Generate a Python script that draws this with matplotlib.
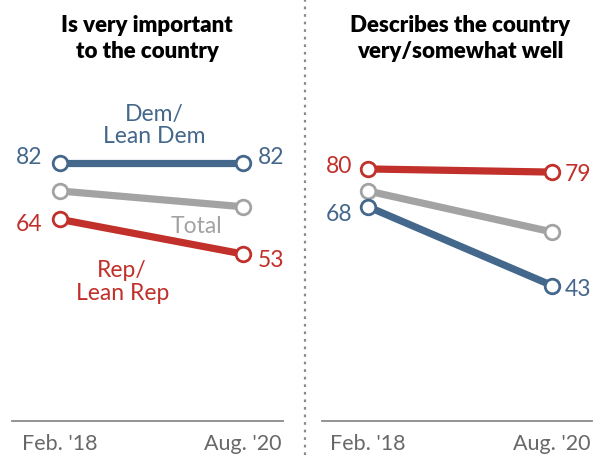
import matplotlib
matplotlib.use("Agg")
import matplotlib.pyplot as plt
from matplotlib.lines import Line2D

# Survey waves
waves = ["Feb. '18", "Aug. '20"]

# "Is very important to the country"
important_dem = [82, 82]
important_total = [73, 68]
important_rep = [64, 53]

# "Describes the country very/somewhat well"
describes_dem = [68, 43]
describes_total = [73, 60]
describes_rep = [80, 79]

DEM = "#44678c"
REP = "#c1302a"
TOTAL = "#a3a3a3"
AXIS = "#8a8a8a"
TICK = "#686868"

FONT = "Lato"

W, H = 600, 456
fig = plt.figure(figsize=(W / 100, H / 100), dpi=100)


def px_axes(left, right, bottom, top):
    return fig.add_axes([left / W, 1 - bottom / H, (right - left) / W, (bottom - top) / H])


def draw_series(ax, values, color, z):
    ax.plot([0, 1], values, color=color, lw=5.2, solid_capstyle="butt", zorder=z)
    ax.plot([0, 1], values, ls="none", marker="o", ms=10.5, mfc="white",
            mec=color, mew=2.0, zorder=z + 0.5)


def value_label(ax, x, y, text, color, dx, dy=0):
    # dx / dy are pixel offsets from the point
    ax.annotate(text, (x, y), xytext=(dx * 0.72, dy * 0.72), textcoords="offset points",
                ha="right" if dx < 0 else "left", va="center",
                fontsize=16.5, color=color, family=FONT)


def setup(ax, xpad_left, xpad_right):
    ax.set_xlim(-xpad_left, 1 + xpad_right)
    ax.set_ylim(0, 102.2)
    for s in ["top", "right", "left"]:
        ax.spines[s].set_visible(False)
    ax.spines["bottom"].set_color(AXIS)
    ax.spines["bottom"].set_linewidth(1.3)
    ax.set_yticks([])
    ax.set_xticks([0, 1])
    ax.set_xticklabels(waves, fontsize=15.5, color=TICK, family=FONT)
    ax.tick_params(axis="x", length=0, pad=9)
    ax.patch.set_alpha(0)


# left panel
ax1 = px_axes(12, 283, 422, 100)
setup(ax1, 48 / 183, 40 / 183)
draw_series(ax1, important_total, TOTAL, 2)
draw_series(ax1, important_rep, REP, 3)
draw_series(ax1, important_dem, DEM, 4)
value_label(ax1, 0, important_dem[0], str(important_dem[0]), DEM, -18, 6)
value_label(ax1, 1, important_dem[1], str(important_dem[1]), DEM, 15, 6)
value_label(ax1, 0, important_rep[0], str(important_rep[0]), REP, -18, -4)
value_label(ax1, 1, important_rep[1], str(important_rep[1]), REP, 15, -5)
ax1.text(0.515, important_dem[0] + 5.2, "Dem/\nLean Dem", ha="center", va="bottom",
         fontsize=16.5, color=DEM, family=FONT, linespacing=1.1)
ax1.text(0.885, important_total[1] - 2.6, "Total", ha="right", va="top",
         fontsize=16.5, color=TOTAL, family=FONT)
ax1.text(0.34, important_rep[1] - 1.6, "Rep/\nLean Rep", ha="center", va="top",
         fontsize=16.5, color=REP, family=FONT, linespacing=1.1)

# right panel
ax2 = px_axes(322, 592, 422, 100)
setup(ax2, 46 / 184, 40 / 184)
draw_series(ax2, describes_total, TOTAL, 2)
draw_series(ax2, describes_dem, DEM, 3)
draw_series(ax2, describes_rep, REP, 4)
value_label(ax2, 0, describes_rep[0], str(describes_rep[0]), REP, -16, 3)
value_label(ax2, 1, describes_rep[1], str(describes_rep[1]), REP, 13, -1)
value_label(ax2, 0, describes_dem[0], str(describes_dem[0]), DEM, -16, -7)
value_label(ax2, 1, describes_dem[1], str(describes_dem[1]), DEM, 13, -3)

fig.text(147 / W, 1 - 15 / H, "Is very important\nto the country", ha="center", va="top",
         fontsize=16, fontweight="heavy", family=FONT, linespacing=1.28)
fig.text(460 / W, 1 - 15 / H, "Describes the country\nvery/somewhat well", ha="center",
         va="top", fontsize=16, fontweight="heavy", family=FONT, linespacing=1.28)

# dotted divider between panels
fig.add_artist(Line2D([305 / W, 305 / W], [0, 1], color="#8a8a8a", lw=1.6,
                      ls=(0, (1.2, 2.2))))

fig.savefig("out.png", dpi=100)
